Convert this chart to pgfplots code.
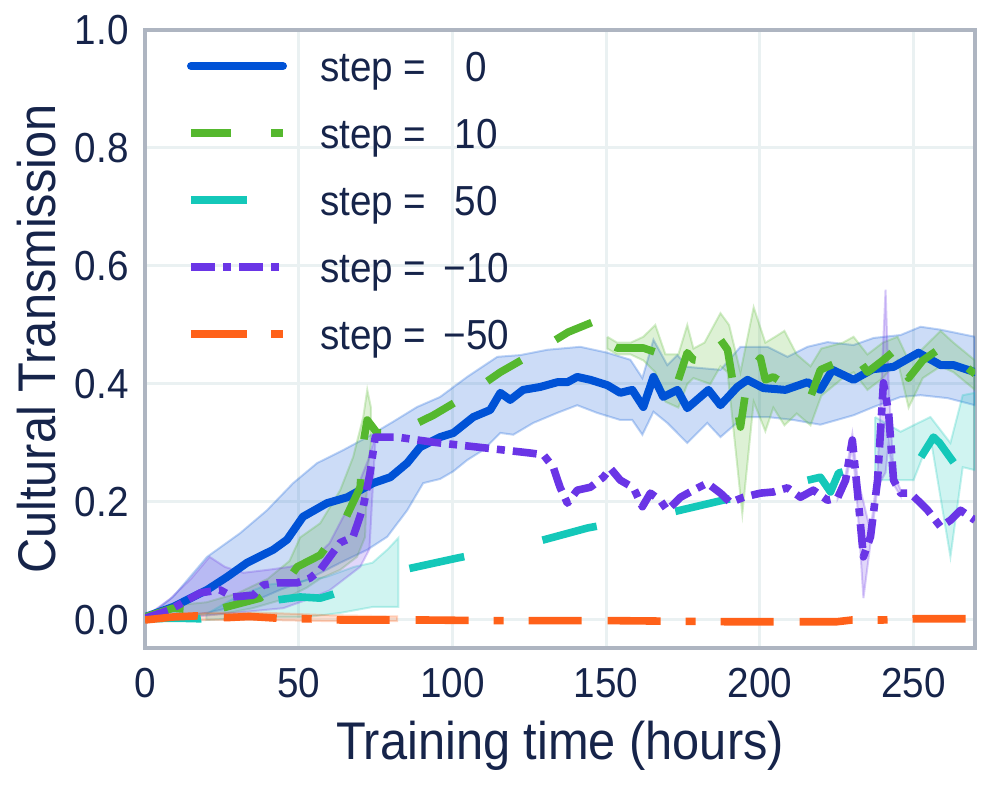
\documentclass[border=0pt]{standalone}
\usepackage{fontspec}
\setmainfont{Liberation Sans}[FakeStretch=0.92]
\usepackage{pgfplots}
\pgfplotsset{compat=1.18}
\definecolor{cblue}{HTML}{0052D6}
\definecolor{cgreen}{HTML}{55B82E}
\definecolor{cteal}{HTML}{14C8B9}
\definecolor{cpurple}{HTML}{6A35E6}
\definecolor{corange}{HTML}{FF6119}
\definecolor{ctext}{HTML}{16244A}
\definecolor{cgrid}{HTML}{EAF1F2}
\definecolor{cframe}{HTML}{AEB5C1}
\begin{document}
\begin{tikzpicture}
\useasboundingbox (0,0) rectangle (494pt,393pt);
\begin{axis}[
  at={(72.5pt,69pt)}, anchor=south west,
  scale only axis, width=415pt, height=309pt,
  xmin=0, xmax=270, ymin=-0.0475, ymax=1.0,
  xtick={0,50,100,150,200,250},
  ytick={0,0.2,0.4,0.6,0.8,1.0},
  major tick length=0pt,
  grid=major,
  major grid style={draw=cgrid, line width=1.5pt},
  axis line style={draw=cframe, line width=1.6pt},
  /pgf/number format/assume math mode=true,
  tick label style={font=\fontsize{21}{21}\selectfont, text=ctext},
  yticklabel style={/pgf/number format/fixed, /pgf/number format/fixed zerofill, /pgf/number format/precision=1, anchor=east, inner sep=0pt, xshift=-8pt},
  xticklabel style={anchor=base, inner sep=0pt, yshift=-24.5pt},
  xlabel={Training time (hours)},
  ylabel={Cultural Transmission},
  every axis x label/.style={at={(axis description cs:0.5,-0.1812)}, anchor=base},
  every axis y label/.style={at={(axis description cs:-0.1084,0.5)}, rotate=90, anchor=base},
  label style={font=\fontsize{26.5}{26.5}\selectfont, text=ctext},
  legend style={draw=none, fill=none, at={(axis description cs:0.0506,0.9644)}, anchor=north west,
    inner sep=0pt, outer sep=0pt, row sep=14pt, column sep=16.5pt,
    font=\fontsize{21}{21}\selectfont, text=ctext,
    cells={anchor=base west},
    nodes={inner sep=0pt, text height=15pt, text depth=4.5pt}},
  legend image code/.code={\draw[#1] (0pt,8pt) -- (46pt,8pt);},
]
% ---------- bands ----------
% blue band
\addplot[draw=cblue, draw opacity=0.25, fill=cblue, fill opacity=0.2, line width=1pt, forget plot] coordinates {
(0.6,0.005) (9.1,0.039) (20.2,0.107) (30.9,0.147) (39.7,0.186) (48.2,0.232) (56.0,0.266) (64.5,0.288) (72.3,0.310) (80.7,0.336) (88.5,0.361) (96.0,0.378) (104.8,0.412) (114.6,0.446) (122.1,0.449) (130.9,0.458) (141.6,0.463) (150.4,0.453) (157.9,0.441) (161.8,0.410) (165.4,0.475) (169.9,0.432) (173.2,0.449) (176.4,0.429) (187.2,0.424) (193.7,0.463) (202.5,0.463) (209.0,0.446) (215.5,0.463) (222.0,0.471) (230.5,0.466) (237.0,0.478) (245.8,0.483) (252.3,0.497) (258.8,0.492) (270,0.480)
(270,0.364) (261.1,0.376) (252.3,0.381) (245.8,0.378) (237.0,0.361) (230.5,0.347) (219.7,0.331) (210.9,0.339) (202.5,0.344) (194.7,0.344) (187.2,0.310) (182.9,0.334) (176.4,0.300) (169.9,0.334) (165.4,0.353) (161.8,0.314) (158.5,0.339) (154.6,0.339) (147.1,0.351) (140.6,0.364) (134.1,0.351) (126.3,0.334) (119.8,0.314) (115.6,0.317) (110.0,0.288) (104.8,0.271) (100.3,0.252) (96.0,0.239) (90.5,0.232) (85.3,0.186) (78.8,0.141) (72.3,0.119) (63.5,0.097) (52.7,0.068) (43.9,0.051) (34.2,0.029) (20.2,0.012) (0.6,0.0) (0.6,0.005)};
% green band early
\addplot[draw=cgreen, draw opacity=0.25, fill=cgreen, fill opacity=0.2, line width=1pt, forget plot] coordinates {
(0,0.005) (10,0.025) (20,0.03) (30,0.045) (40,0.07) (47,0.10) (50.5,0.14) (57,0.164) (63.5,0.22) (67.7,0.276) (71,0.344) (72.3,0.39) (73.5,0.36)
(73.5,0.30) (72.3,0.25) (71.6,0.141) (69,0.107) (63.5,0.085) (57,0.07) (52.7,0.055) (45,0.035) (35,0.02) (25,0.01) (15,0.008) (5,0.003) (0,0.0) (0,0.005)};
% green band late
\addplot[draw=cgreen, draw opacity=0.25, fill=cgreen, fill opacity=0.2, line width=1pt, forget plot] coordinates {
(150.4,0.48) (153.6,0.47) (158,0.47) (162.1,0.48) (166,0.50) (169.3,0.45) (173.5,0.45) (176.4,0.50) (178.4,0.46) (182,0.47) (187.2,0.52) (190,0.50) (193.7,0.42) (198,0.53) (201.8,0.47) (205,0.48) (208,0.49) (212,0.45) (216.5,0.43) (220,0.46) (227,0.47) (230.5,0.48) (235,0.45) (240,0.47) (244.8,0.48) (248.4,0.44) (253,0.46) (258.8,0.49) (263,0.47) (270,0.44)
(270,0.39) (263,0.42) (258.8,0.43) (253,0.41) (248.4,0.36) (244.8,0.44) (240,0.41) (235,0.39) (230.5,0.42) (227,0.41) (220,0.38) (216.5,0.33) (212,0.35) (208,0.33) (204.4,0.36) (201.8,0.32) (198,0.37) (194.3,0.18) (189.5,0.42) (187.2,0.43) (183.9,0.40) (178.4,0.41) (176.4,0.40) (173.5,0.36) (169.3,0.37) (166,0.42) (162.1,0.44) (158,0.45) (153.6,0.45) (150.4,0.46) (150.4,0.48)};
% teal band early
\addplot[draw=cteal, draw opacity=0.25, fill=cteal, fill opacity=0.2, line width=1pt, forget plot] coordinates {
(20,0.01) (30,0.04) (40,0.06) (50,0.065) (59,0.073) (68,0.09) (74,0.097) (79,0.12) (82.4,0.139)
(82.4,0.022) (74,0.022) (63.5,0.012) (52.7,0.005) (40,0.005) (30,0.003) (20,0.0) (20,0.01)};
% teal band late
\addplot[draw=cteal, draw opacity=0.25, fill=cteal, fill opacity=0.2, line width=1pt, forget plot] coordinates {
(237.5,0.344) (245.8,0.319) (250,0.33) (255.5,0.344) (262,0.300) (266,0.381) (270,0.385)
(270,0.254) (266,0.259) (262,0.107) (255.5,0.31) (250,0.237) (239,0.237) (237.5,0.24) (237.5,0.344)};
% purple band early
\addplot[draw=cpurple, draw opacity=0.25, fill=cpurple, fill opacity=0.2, line width=1pt, forget plot] coordinates {
(0,0.005) (8,0.035) (15,0.07) (21,0.107) (26,0.09) (32,0.08) (40,0.085) (47,0.09) (54,0.10) (60,0.13) (65,0.18) (69,0.224) (72.5,0.27) (74.9,0.31)
(74.9,0.30) (73,0.12) (70,0.09) (65,0.07) (60,0.05) (53,0.035) (45,0.02) (35,0.015) (25,0.01) (15,0.005) (8,0.0) (0,0.0) (0,0.005)};
% purple band late
\addplot[draw=cpurple, draw opacity=0.25, fill=cpurple, fill opacity=0.2, line width=1pt, forget plot] coordinates {
(225.3,0.21) (227.9,0.245) (230.1,0.315) (231.8,0.24) (233.7,0.20) (236,0.15) (238.3,0.25) (240.9,0.56) (241.9,0.40) (243.5,0.25) (245.8,0.22)
(245.8,0.21) (243.5,0.23) (241.9,0.30) (240.9,0.25) (238.3,0.225) (236,0.13) (233.7,0.037) (231.8,0.19) (230.1,0.295) (227.9,0.23) (225.3,0.205) (225.3,0.21)};
% orange band
\addplot[draw=corange, draw opacity=0.25, fill=corange, fill opacity=0.2, line width=1pt, forget plot] coordinates {
(0,0.003) (20,0.012) (40,0.012) (60,0.008) (82,0.006)
(82,-0.002) (60,-0.002) (40,0.0) (20,0.0) (0,-0.002) (0,0.003)};
% ---------- lines ----------
\addplot[cblue, line width=4pt, line cap=round, line join=round, forget plot] coordinates {
(0,0.005) (9.1,0.022) (20.2,0.051) (26.7,0.073) (33.2,0.097) (41.7,0.119) (46.2,0.136) (51.4,0.175) (59.2,0.198) (65.8,0.208) (70.0,0.220) (74.2,0.232) (79.8,0.242) (85.3,0.266) (89.5,0.293) (96.0,0.310) (100.3,0.317) (106.8,0.344) (112.3,0.356) (115.6,0.385) (118.8,0.373) (123.0,0.390) (128.6,0.395) (134.1,0.403) (137.4,0.403) (140.6,0.412) (144.9,0.407) (150.4,0.398) (154.6,0.385) (158.5,0.390) (162.1,0.361) (165.4,0.412) (168.6,0.378) (173.2,0.390) (176.4,0.359) (183.3,0.390) (187.2,0.364) (192.7,0.395) (196.0,0.407) (201.2,0.393) (208.3,0.390) (215.5,0.403) (219.7,0.390) (223.6,0.424) (230.5,0.407) (236.7,0.425) (243.5,0.429) (251.6,0.453) (258.8,0.432) (263.0,0.432) (270,0.420)};
\addplot[cgreen, line width=3.8pt, line join=round, dash pattern=on 20pt off 20pt, forget plot] coordinates {
(0,0.005) (9.1,0.020) (16,0.017) (25,0.020) (37.4,0.037) (47.2,0.073) (49.5,0.090) (57,0.110) (64.5,0.164) (70,0.225) (71,0.300) (72.3,0.339) (75.5,0.317) (82,0.317) (93.8,0.347) (104.8,0.381) (115.6,0.420) (127,0.454) (137.7,0.488) (147.1,0.508) (150.4,0.469) (153.6,0.461) (158,0.461) (162.1,0.461) (166,0.454) (169.3,0.415) (173.5,0.407) (176.4,0.453) (178.4,0.441) (183.9,0.437) (187.2,0.475) (189.5,0.458) (193.7,0.327) (196.3,0.419) (200.2,0.444) (201.8,0.407) (204.4,0.412) (208,0.40) (212,0.395) (216.5,0.378) (219.7,0.424) (227.2,0.441) (230.5,0.454) (235,0.420) (240,0.44) (243.2,0.454) (244.8,0.463) (248.4,0.410) (253,0.44) (258.8,0.461) (263,0.446) (270,0.417)};
\addplot[cteal, line width=3.8pt, line join=round, dash pattern=on 28pt off 40pt, forget plot] coordinates {
(0,0.002) (10,0.003) (18,0.002) (25,0.008) (35,0.02) (43,0.034) (50.5,0.039) (57,0.037) (60.2,0.042) (66,0.052) (75,0.068) (84,0.085) (101.6,0.105) (127,0.132) (144,0.156) (170,0.181) (188,0.203) (200,0.215) (213.2,0.234) (219.7,0.242) (223,0.217) (225.6,0.249) (232,0.258) (240,0.265) (246.4,0.268) (252.3,0.275) (256.5,0.310) (258.5,0.300) (264.3,0.258) (266.3,0.317) (270,0.317)};
\addplot[cpurple, line width=3.8pt, line join=round, dash pattern=on 12pt off 4pt on 4pt off 4pt, forget plot] coordinates {
(0,0.003) (8,0.017) (18,0.046) (24.4,0.051) (28.6,0.039) (35.2,0.042) (38.4,0.059) (43,0.063) (49.5,0.063) (53.7,0.071) (57,0.085) (63.5,0.131) (67.7,0.141) (71,0.192) (73.2,0.249) (74.9,0.310) (82,0.310) (92.8,0.302) (96,0.300) (110,0.292) (125.3,0.283) (129.6,0.280) (132.8,0.259) (135,0.225) (137.4,0.198) (140.6,0.220) (144.9,0.225) (149.1,0.242) (151.4,0.257) (154.6,0.237) (158.9,0.224) (161.8,0.192) (164.4,0.215) (167.6,0.203) (169.9,0.186) (174.2,0.208) (178.4,0.220) (182.9,0.232) (187.2,0.215) (190.4,0.199) (194.7,0.208) (200.2,0.215) (204.4,0.217) (209,0.224) (213.2,0.208) (217.4,0.220) (222,0.203) (225.3,0.207) (227.9,0.237) (230.1,0.305) (231.8,0.215) (233.7,0.107) (236,0.141) (238.3,0.237) (240.2,0.402) (241.9,0.351) (243.5,0.237) (245.8,0.215) (249,0.215) (254.6,0.186) (258.8,0.158) (262,0.169) (265.3,0.186) (270,0.169)};
\addplot[corange, line width=3.8pt, line join=round, dash pattern=on 26.5pt off 13pt on 26.5pt off 12.5pt on 5pt off 12.5pt, forget plot] coordinates {
(0,0.0) (9,0.005) (17,0.007) (26.7,0.004) (34,0.006) (43,0.003) (52.7,0.002) (63.5,0.0) (74,0.0) (90,0.0) (110,-0.001) (130,-0.001) (150,-0.001) (170,-0.002) (190,-0.003) (210,-0.003) (225,-0.003) (230,0.0) (240,0.0) (250,0.002) (260,0.002) (270,0.002)};
% ---------- legend ----------
\addlegendimage{cblue, line width=4pt, line cap=round}
\addlegendentry{\makebox[54pt][l]{step =}\hspace{7.5pt}\makebox[33.5pt][c]{0}}
\addlegendimage{cgreen, line width=3.8pt, dash pattern=on 20pt off 20pt}
\addlegendentry{\makebox[54pt][l]{step =}\hspace{7.5pt}\makebox[33.5pt][c]{10}}
\addlegendimage{cteal, line width=3.8pt, dash pattern=on 28pt off 40pt}
\addlegendentry{\makebox[54pt][l]{step =}\hspace{7.5pt}\makebox[33.5pt][c]{50}}
\addlegendimage{cpurple, line width=3.8pt, dash pattern=on 12pt off 4pt on 4pt off 4pt}
\addlegendentry{\makebox[54pt][l]{step =}\hspace{7.5pt}\makebox[33.5pt][c]{−10}}
\addlegendimage{corange, line width=3.8pt, dash pattern=on 28pt off 12pt on 6pt off 12pt}
\addlegendentry{\makebox[54pt][l]{step =}\hspace{7.5pt}\makebox[33.5pt][c]{−50}}
\end{axis}
\end{tikzpicture}
\end{document}
